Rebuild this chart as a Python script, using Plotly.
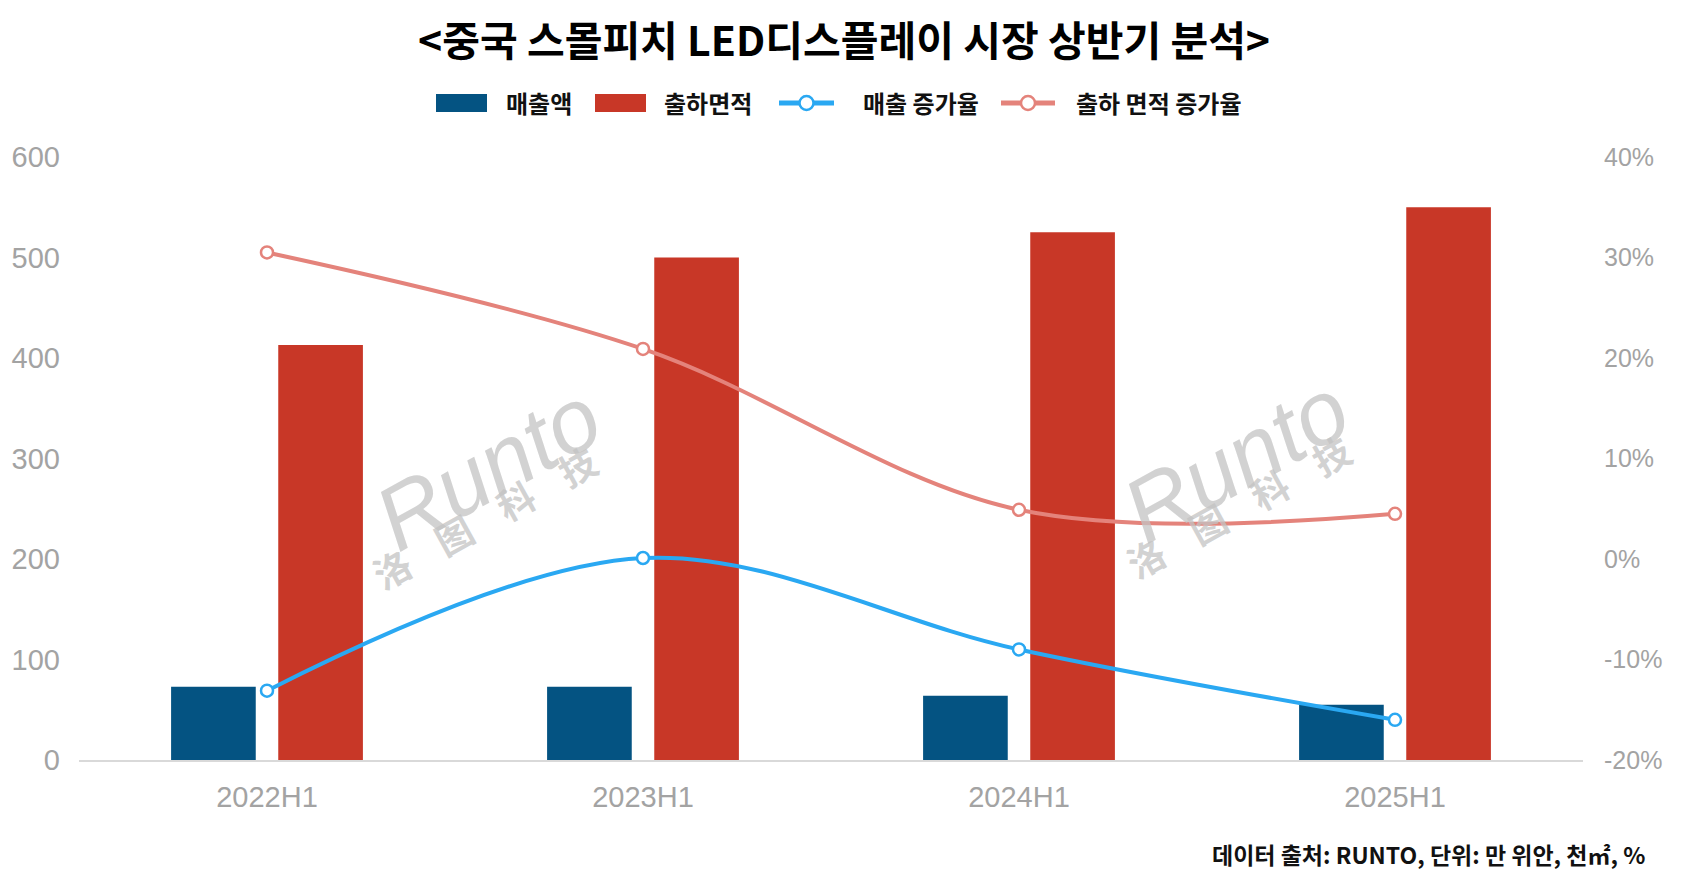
import plotly.graph_objects as go

# ---------------- data ----------------
categories = ["2022H1", "2023H1", "2024H1", "2025H1"]
sales = [73, 73, 64, 55]                      # 매출액 (만 위안)
shipment_area = [413, 500, 525, 550]          # 출하면적 (천㎡)
sales_growth = [-13.1, 0.1, -9.0, -16.0]      # 매출 증가율 (%)
area_growth = [30.5, 20.9, 4.9, 4.5]          # 출하 면적 증가율 (%)

left_tickvals = [0, 100, 200, 300, 400, 500, 600]
right_tickvals = [-20, -10, 0, 10, 20, 30, 40]
right_ticktext = ["-20%", "-10%", "0%", "10%", "20%", "30%", "40%"]

legend_names = ["매출액", "출하면적", "매출 증가율", "출하 면적 증가율"]
title_text = "&lt;중국 스몰피치 LED디스플레이 시장 상반기 분석&gt;"
source_text = "데이터 출처: RUNTO, 단위: 만 위안, 천㎡, %"

# ---------------- style ----------------
W, H = 1688, 879
OFF = 8  # page body margin
PL, PR, PT, PB = 79 - OFF, 1583 - OFF, 157 - OFF, 760 - OFF
BLUE = "#045382"
RED = "#c83727"
LBLUE = "#2aa8f2"
LRED = "#e4837b"
TICK = "#a3a3a3"
KFONT = "Noto Sans CJK KR"


def px2x(px):
    return (px - OFF - PL) / (PR - PL)


def py2y(py):
    return (PB - (py - OFF)) / (PB - PT)


fig = go.Figure()
fig.add_bar(x=categories, y=sales, name=legend_names[0], marker=dict(color=BLUE, line=dict(width=0)))
fig.add_bar(x=categories, y=shipment_area, name=legend_names[1], marker=dict(color=RED, line=dict(width=0)))
fig.add_scatter(x=categories, y=sales_growth, name=legend_names[2], yaxis="y2",
                mode="lines+markers",
                line=dict(color=LBLUE, width=4, shape="spline", smoothing=1),
                marker=dict(size=12, color="white", line=dict(color=LBLUE, width=2.5)))
fig.add_scatter(x=categories, y=area_growth, name=legend_names[3], yaxis="y2",
                mode="lines+markers",
                line=dict(color=LRED, width=4, shape="spline", smoothing=1),
                marker=dict(size=12, color="white", line=dict(color=LRED, width=2.5)))

shapes = []
annotations = []

# title
annotations.append(dict(text=f"<b>{title_text}</b>", xref="paper", yref="paper",
                        x=px2x(844), y=py2y(38), xanchor="center", yanchor="middle",
                        showarrow=False, font=dict(family=KFONT, size=41, color="#000")))

# manual legend
leg_y = 103
rects = [(436, 487, BLUE, 504, legend_names[0]), (595, 646, RED, 662, legend_names[1])]
for x0, x1, col, tx, name in rects:
    shapes.append(dict(type="rect", xref="paper", yref="paper",
                       x0=px2x(x0), x1=px2x(x1), y0=py2y(leg_y + 9), y1=py2y(leg_y - 9),
                       fillcolor=col, line=dict(width=0)))
    annotations.append(dict(text=f"<b>{name}</b>", xref="paper", yref="paper",
                            x=px2x(tx), y=py2y(leg_y), xanchor="left", yanchor="middle",
                            showarrow=False, font=dict(family=KFONT, size=24, color="#111")))
lines = [(779, 834, LBLUE, 861, legend_names[2]), (1001, 1055, LRED, 1074, legend_names[3])]
for x0, x1, col, tx, name in lines:
    shapes.append(dict(type="line", xref="paper", yref="paper",
                       x0=px2x(x0), x1=px2x(x1), y0=py2y(leg_y), y1=py2y(leg_y),
                       line=dict(color=col, width=5)))
    shapes.append(dict(type="circle", xref="paper", yref="paper",
                       xsizemode="pixel", ysizemode="pixel",
                       xanchor=px2x((x0 + x1) / 2), yanchor=py2y(leg_y),
                       x0=-7, x1=7, y0=-7, y1=7,
                       fillcolor="white", line=dict(color=col, width=2.5)))
    annotations.append(dict(text=f"<b>{name}</b>", xref="paper", yref="paper",
                            x=px2x(tx), y=py2y(leg_y), xanchor="left", yanchor="middle",
                            showarrow=False, font=dict(family=KFONT, size=24, color="#111")))

# source note
annotations.append(dict(text=f"<b>{source_text}</b>", xref="paper", yref="paper",
                        x=px2x(1647), y=py2y(854), xanchor="right", yanchor="middle",
                        showarrow=False, font=dict(family=KFONT, size=23, color="#111")))

# watermarks
for (rx, ry), (cx, cy) in [((488, 468), (484, 517)), ((1236, 460), (1238, 506))]:
    annotations.append(dict(text="Runto", xref="paper", yref="paper",
                            x=px2x(rx), y=py2y(ry), xanchor="center", yanchor="middle",
                            showarrow=False, textangle=-29,
                            font=dict(family="Liberation Sans", size=90, style="italic",
                                      color="rgba(195,195,195,0.75)")))
    annotations.append(dict(text="<b>洛    图    科    技</b>", xref="paper", yref="paper",
                            x=px2x(cx), y=py2y(cy), xanchor="center", yanchor="middle",
                            showarrow=False, textangle=-29,
                            font=dict(family="Noto Sans CJK SC", size=37,
                                      color="rgba(195,195,195,0.75)")))

fig.update_layout(
    width=W, height=H,
    margin=dict(l=PL, r=W - PR, t=PT, b=H - PB, autoexpand=False),
    paper_bgcolor="white", plot_bgcolor="white",
    showlegend=False,
    barmode="group", bargap=0.43, bargroupgap=0.21,
    xaxis=dict(showline=True, linecolor="#d9d9d9", linewidth=2, showgrid=False,
               automargin=False,
               tickfont=dict(family="Liberation Sans", size=29, color=TICK),
               ticks="", ticklabelstandoff=10),
    yaxis=dict(range=[0, 600], tickvals=left_tickvals, showgrid=False, zeroline=False,
               showline=False, ticks="", automargin=False,
               tickfont=dict(family="Liberation Sans", size=29, color=TICK),
               ticklabelstandoff=18),
    yaxis2=dict(range=[-20, 40], tickvals=right_tickvals, ticktext=right_ticktext,
                overlaying="y", side="right", showgrid=False, zeroline=False,
                showline=False, ticks="", automargin=False,
                tickfont=dict(family="Liberation Sans", size=25, color=TICK),
                ticklabelstandoff=20),
    shapes=shapes,
    annotations=annotations,
)

fig.write_html("out.html")
